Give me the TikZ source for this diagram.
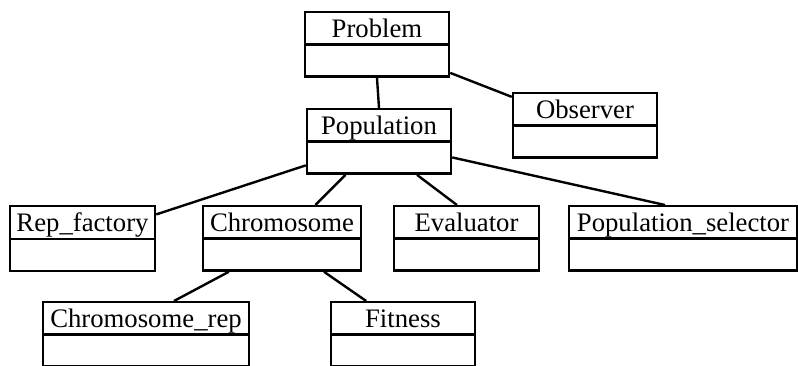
\documentclass[tikz,border=0pt]{standalone}
\usepackage{fontspec}
\setmainfont{Liberation Serif}
\usetikzlibrary{shapes.multipart}
% class box: name on top, empty lower compartment
\newcommand{\umlclass}[1]{\rule[-0.14cm]{0pt}{0.75cm}#1\nodepart{second}\rule{0pt}{0.74cm}}
\begin{document}
\begin{tikzpicture}[x=0.025cm,y=-0.025cm,line width=1.7pt,
    every node/.style={font=\fontsize{19}{22}\selectfont},
    klass/.style={draw,rectangle split,rectangle split parts=2,anchor=north,
      inner xsep=2pt,inner ysep=0pt,minimum width=#1},
    klass/.default=3.6cm]
    \useasboundingbox (0,0) rectangle (798,366);
    \node [klass] (Problem) at (377,11) {\umlclass{Problem}};
    \node [klass] (Observer) at (585,92) {\umlclass{Observer}};
    \node [klass] (Population) at (379,108) {\umlclass{Population}};
    \node [klass=3.625cm] (Rep_factory) at (82.5,205) {\umlclass{Rep\_factory}};
    \node [klass=3.95cm] (Chromosome) at (282,205) {\umlclass{Chromosome}};
    \node [klass=3.625cm] (Evaluator) at (466.5,205) {\umlclass{Evaluator}};
    \node [klass=5.7cm] (Population_selector) at (683,205) {\umlclass{Population\_selector}};
    \node [klass=5.15cm] (Chromosome_rep) at (146,301) {\umlclass{Chromosome\_rep}};
    \node [klass] (Fitness) at (403,301) {\umlclass{Fitness}};
    \path (Problem.south) edge (Population.north);
    \path (Problem) edge (Observer);
    \path (Population) edge (Rep_factory);
    \path (Population) edge (Chromosome);
    \path ([xshift=0.95cm]Population.south) edge ([xshift=-0.24cm]Evaluator.north);
    \path ([yshift=-0.4cm]Population.east) edge ([xshift=-0.45cm]Population_selector.north);
    \path ([xshift=-1.33cm]Chromosome.south) edge ([xshift=0.7cm]Chromosome_rep.north);
    \path ([xshift=1.05cm]Chromosome.south) edge ([xshift=-0.92cm]Fitness.north);
\end{tikzpicture}
\end{document}
